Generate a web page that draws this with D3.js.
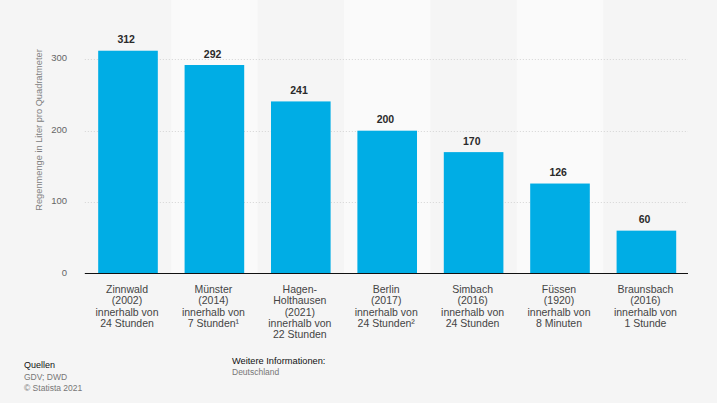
<!DOCTYPE html>
<html><head><meta charset="utf-8">
<script src="https://cdn.jsdelivr.net/npm/d3@7"></script>
<style>
html,body{margin:0;padding:0;background:#f5f5f5;overflow:hidden}
text{font-family:"Liberation Sans",Arial,sans-serif}
</style></head><body>
<svg id="c" width="717" height="403"></svg>
<script>
const categories=["Zinnwald","Münster","Hagen-Holthausen","Berlin","Simbach","Füssen","Braunsbach"];
const labelLines=[
["Zinnwald","(2002)","innerhalb von","24 Stunden"],
["Münster","(2014)","innerhalb von","7 Stunden¹"],
["Hagen-","Holthausen","(2021)","innerhalb von","22 Stunden"],
["Berlin","(2017)","innerhalb von","24 Stunden²"],
["Simbach","(2016)","innerhalb von","24 Stunden"],
["Füssen","(1920)","innerhalb von","8 Minuten"],
["Braunsbach","(2016)","innerhalb von","1 Stunde"]];
const values=[312,292,241,200,170,126,60];
const yTicks=[0,100,200,300];
const yTitle="Regenmenge in Liter pro Quadratmeter";

const svg=d3.select("#c");
const x=d3.scaleBand().domain(categories).range([84.8,689.6]).paddingInner(0.31).paddingOuter(0.155);
const y=d3.scaleLinear().domain([0,300]).range([273.5,59.3]);
const step=x.step(), bandL=c=>x(c)-(step-x.bandwidth())/2;

svg.append("g").selectAll("rect").data(categories.filter((c,i)=>i%2==1)).join("rect")
 .attr("x",bandL).attr("y",0).attr("width",step).attr("height",y(0)).attr("fill","#fafafa");

const gy=svg.append("g").attr("transform","translate(71,0)").call(d3.axisLeft(y).tickValues(yTicks).tickSize(0).tickPadding(4));
gy.select(".domain").remove();
gy.selectAll("text").attr("y",-1.5).attr("font-size",9.5).attr("fill","#666").style("font-family",'"Liberation Sans",Arial,sans-serif');

svg.append("g").selectAll("line").data(yTicks.slice(1)).join("line")
 .attr("x1",84.8).attr("x2",688).attr("y1",d=>Math.round(y(d))+0.5).attr("y2",d=>Math.round(y(d))+0.5)
 .attr("stroke","#d4d4d4").attr("stroke-width",1).attr("stroke-dasharray","1 2");

svg.append("g").selectAll("rect").data(values).join("rect")
 .attr("x",(d,i)=>x(categories[i])).attr("width",x.bandwidth())
 .attr("y",d=>y(d)).attr("height",d=>y(0)-y(d)).attr("fill","#00ade5");

svg.append("g").selectAll("text").data(values).join("text")
 .attr("x",(d,i)=>x(categories[i])+x.bandwidth()/2-1.8).attr("y",d=>y(d)-7.5)
 .attr("text-anchor","middle").attr("font-size",10.5).attr("font-weight","bold").attr("fill","#2a2a2a").text(d=>d);

svg.append("line").attr("x1",84.8).attr("x2",688).attr("y1",y(0)).attr("y2",y(0)).attr("stroke","#111").attr("stroke-width",1);

const gx=svg.append("g").attr("transform",`translate(0,${y(0)})`).call(d3.axisBottom(x).tickSize(0).tickFormat(""));
gx.select(".domain").remove();
gx.selectAll(".tick").each(function(c,i){
 const t=d3.select(this).select("text").text(null).attr("y",null).attr("dy",null)
  .attr("font-size",10.5).attr("fill","#444").style("font-family",'"Liberation Sans",Arial,sans-serif');
 labelLines[i].forEach((l,j)=>t.append("tspan").attr("x",-1).attr("y",19.2+j*11.42).text(l));
});

svg.append("text").attr("transform",`translate(42,130) rotate(-90)`).attr("text-anchor","middle")
 .attr("font-size",9.25).attr("fill","#808080").text(yTitle);

svg.append("text").attr("x",24).attr("y",368).attr("font-size",9).attr("fill","#111").text("Quellen");
svg.append("text").attr("x",24).attr("y",379.5).attr("font-size",8.5).attr("fill","#777").text("GDV; DWD");
svg.append("text").attr("x",24).attr("y",391).attr("font-size",8.5).attr("fill","#777").text("© Statista 2021");
svg.append("text").attr("x",232).attr("y",363.5).attr("font-size",9.25).attr("fill","#111").text("Weitere Informationen:");
svg.append("text").attr("x",232).attr("y",375).attr("font-size",8.5).attr("fill","#777").text("Deutschland");
</script></body></html>
